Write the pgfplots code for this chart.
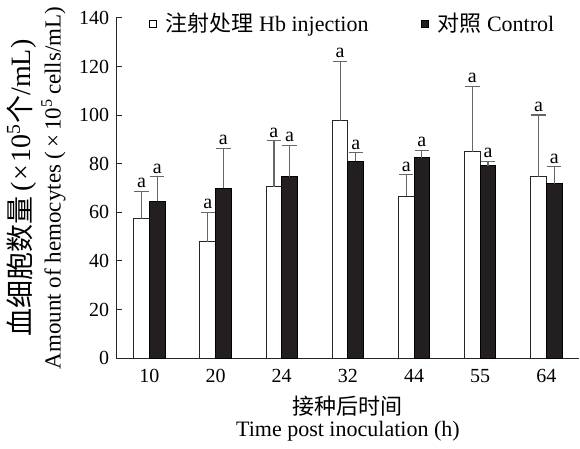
\documentclass[border=0pt]{standalone}
\usepackage{pgfplots}
\pgfplotsset{compat=1.18}
\usepackage{pgfplotstable}
\usepackage{fontspec}
\setmainfont{Liberation Serif}
\newfontfamily\cjk{Noto Sans CJK SC}
\pgfplotstableread{
x m1 e1 m2 e2
0 57.3 11.4 64.6 10.0
1 47.9 12.1 69.8 16.6
2 70.4 19.0 74.6 12.9
3 97.6 24.5 80.9 3.6
4 66.6 8.8 82.5 2.9
5 85.0 26.8 79.1 1.9
6 74.7 25.3 71.8 6.9
}\data
\definecolor{barblack}{HTML}{231F20}
\definecolor{errgray}{HTML}{666666}
\begin{document}
\begin{tikzpicture}
\begin{axis}[
  scale only axis, width=231.5pt, height=170pt,
  xmin=-0.5, xmax=6.5, ymin=0, ymax=140,
  axis x line*=bottom, axis y line*=left,
  axis line style={line width=0.5pt, black!85},
  xtick=data, xticklabels={10,20,24,32,44,55,64},
  ytick={0,20,...,140},
  y tick style={line width=0.5pt, black!85},
  x tick style={draw=none},
  tick align=inside, major tick length=3pt,
  tick label style={font=\fontsize{10}{12}\selectfont},
  xticklabel style={yshift=-2pt},
  /pgf/number format/assume math mode=true,
  xlabel={{\cjk 接种后时间}\\[-1pt]Time post inoculation (h)},
  xlabel style={align=center, font=\fontsize{11}{12}\selectfont},
  ylabel={{\fontsize{14}{15}\selectfont{\cjk 血细胞数量}\,(\kern1pt×\kern1pt10\textsuperscript{5}{\cjk 个}/mL)}\\[1.5pt]Amount of hemocytes (\,×\,10\textsuperscript{5}\,cells/mL)},
  ylabel style={align=center, font=\fontsize{11.5}{12}\selectfont},
  legend style={at={(rel axis cs:0,1)}, anchor=west, xshift=16pt, yshift=-3pt,
    draw=none, fill=none, inner sep=0pt, font=\fontsize{11}{12}\selectfont,
    /tikz/every even column/.append style={column sep=24pt}},
  legend columns=2,
]
\addplot[ybar, bar width=0.236, bar shift=-0.118, fill=white, draw=black!85, line width=0.5pt,
  legend image code/.code={\draw[fill=white, draw=black, line width=0.4pt] (0pt,-1.8pt) rectangle (3.6pt,1.8pt); \path (6pt,0pt);}]
  table[x=x, y=m1] {\data};
\addlegendentry{{\cjk 注射处理} Hb injection}
\addplot[ybar, bar width=0.236, bar shift=0.118, fill=barblack, draw=black, line width=0.5pt,
  legend image code/.code={\draw[fill=barblack, draw=black, line width=0.4pt] (0pt,-1.8pt) rectangle (3.6pt,1.8pt); \path (6pt,0pt);}]
  table[x=x, y=m2] {\data};
\addlegendentry{{\cjk 对照} Control}
% error bars and significance letters
\addplot[draw=none, mark=none, forget plot,
  error bars/.cd, y dir=plus, y explicit,
  error bar style={draw=errgray, solid, line width=0.6pt},
  error mark options={rotate=90, draw=errgray, solid, mark size=3.6pt, line width=0.6pt}]
  table[x expr=\thisrow{x}-0.118, y=m1, y error=e1] {\data};
\addplot[draw=none, mark=none, forget plot,
  error bars/.cd, y dir=plus, y explicit,
  error bar style={draw=errgray, solid, line width=0.6pt},
  error mark options={rotate=90, draw=errgray, solid, mark size=3.6pt, line width=0.6pt}]
  table[x expr=\thisrow{x}+0.118, y=m2, y error=e2] {\data};
\addplot[draw=none, mark=none, forget plot,
  nodes near coords={a}, nodes near coords style={font=\fontsize{10}{12}\selectfont, anchor=south, inner sep=1.5pt, text=black}]
  table[x expr=\thisrow{x}-0.118, y expr=\thisrow{m1}+\thisrow{e1}] {\data};
\addplot[draw=none, mark=none, forget plot,
  nodes near coords={a}, nodes near coords style={font=\fontsize{10}{12}\selectfont, anchor=south, inner sep=1.5pt, text=black}]
  table[x expr=\thisrow{x}+0.118, y expr=\thisrow{m2}+\thisrow{e2}] {\data};
\end{axis}
\end{tikzpicture}
\end{document}
